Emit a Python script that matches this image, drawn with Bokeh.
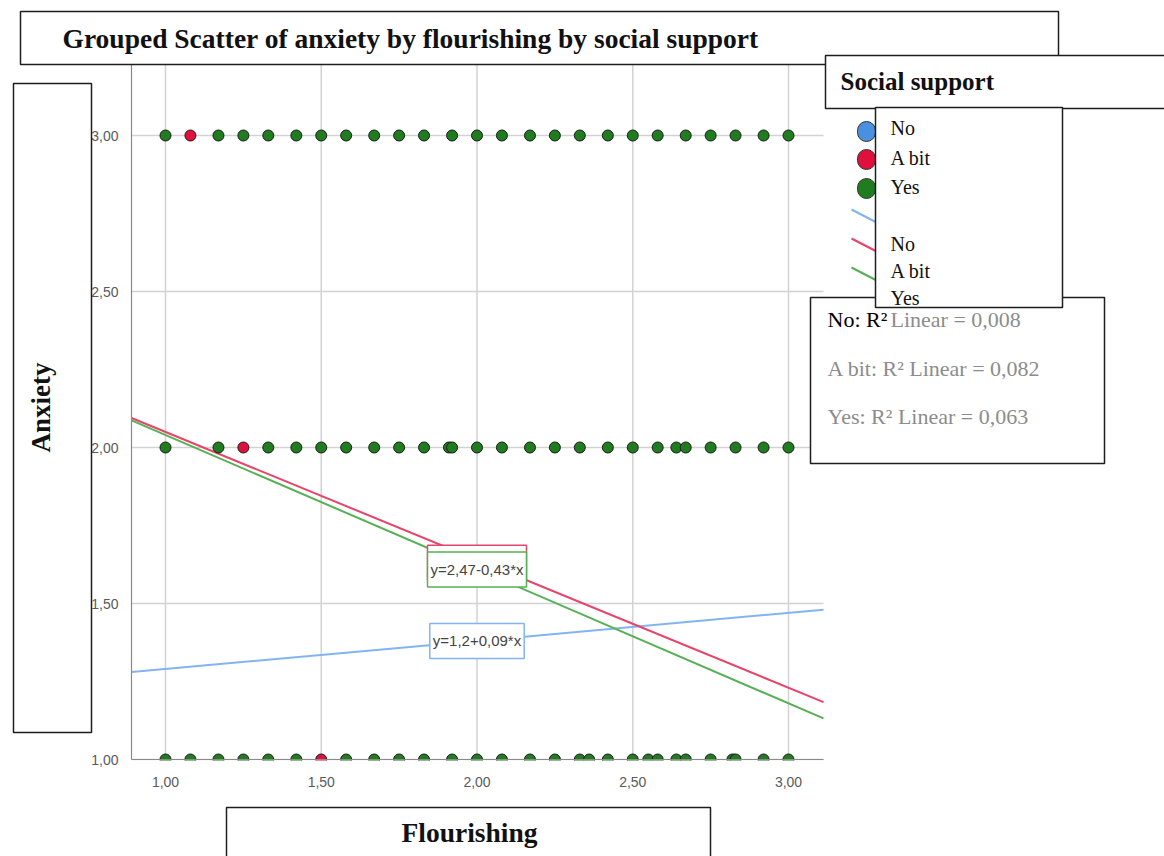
import numpy as np
from bokeh.plotting import figure
from bokeh.models import (Range1d, FixedTicker, CustomJSTickFormatter, Label,
                          BoxAnnotation, Arrow, LinearAxis)
from bokeh.embed import file_html
from bokeh.resources import INLINE

# ---------------- data ----------------
group_names = ["No", "A bit", "Yes"]
group_fill = ["#4a8fe0", "#e0103c", "#1f7d1f"]
fit_colors = ["#82b4f2", "#e8436a", "#55b055"]

# "Yes" group (green points)
yes_flourishing = [
    1.00, 1.17, 1.25, 1.33, 1.42, 1.50, 1.58, 1.67, 1.75, 1.83, 1.92, 2.00,
    2.08, 2.17, 2.25, 2.33, 2.42, 2.50, 2.58, 2.67, 2.75, 2.83, 2.92, 3.00,
    1.00, 1.17, 1.33, 1.42, 1.50, 1.58, 1.67, 1.75, 1.83, 1.91, 1.92, 2.00,
    2.08, 2.17, 2.25, 2.33, 2.42, 2.50, 2.58, 2.64, 2.67, 2.75, 2.83, 2.92, 3.00,
    1.00, 1.08, 1.17, 1.25, 1.33, 1.42, 1.58, 1.67, 1.75, 1.83, 1.92, 2.00,
    2.08, 2.17, 2.25, 2.33, 2.36, 2.42, 2.50, 2.55, 2.58, 2.64, 2.67, 2.75,
    2.82, 2.83, 2.92, 3.00,
]
yes_anxiety = [3.0] * 24 + [2.0] * 25 + [1.0] * 29

# "A bit" group (red points)
abit_flourishing = [1.08, 1.25, 1.50]
abit_anxiety = [3.0, 2.0, 1.0]

# "No" group: no points visible
no_flourishing = []
no_anxiety = []

# linear fits per group
fit_intercept = [1.20, 2.46, 2.47]
fit_slope = [0.09, -0.41, -0.43]
fit_equation = ["y=1,2+0,09*x", "y=2,46-0,41*x", "y=2,47-0,43*x"]
fit_label_x = 2.0
fit_label_y = [1.38, 1.631, 1.609]
r2_text = ["0,008", "0,082", "0,063"]

x_ticks = [1.0, 1.5, 2.0, 2.5, 3.0]
y_ticks = [1.0, 1.5, 2.0, 2.5, 3.0]

# data region of the plot (axis extents)
X_MIN, X_MAX = 0.891, 3.1125
Y_MIN, Y_MAX = 1.0, 3.2276

# ---------------- layout ----------------
W, H = 1164, 856
PX_PER_X, X1_PX = 311.5, 165.0   # page x of flourishing = 1
PX_PER_Y, Y1_PX = 312.0, 759.0   # page y of anxiety = 1


def SX(px):
    return px


def SY(py):
    return H - py


p = figure(width=W, height=H, min_border=0, output_backend="svg",
           toolbar_location=None, x_axis_type=None, y_axis_type=None,
           x_range=Range1d(1 - X1_PX / PX_PER_X, 1 + (W - X1_PX) / PX_PER_X),
           y_range=Range1d(1 - (H - Y1_PX) / PX_PER_Y, 1 + Y1_PX / PX_PER_Y))
p.outline_line_color = None
p.background_fill_color = "white"
p.border_fill_color = "white"
p.xgrid.visible = False
p.ygrid.visible = False

fmt = CustomJSTickFormatter(code="return tick.toFixed(2).replace('.', ',');")
xaxis = LinearAxis(fixed_location=Y_MIN, bounds=(X_MIN, X_MAX),
                   ticker=FixedTicker(ticks=x_ticks), formatter=fmt)
yaxis = LinearAxis(fixed_location=X_MIN, bounds=(Y_MIN, Y_MAX),
                   ticker=FixedTicker(ticks=y_ticks), formatter=fmt)
for ax in (xaxis, yaxis):
    ax.axis_line_color = "#8a8a8a"
    ax.axis_line_width = 1.2
    ax.major_tick_line_color = None
    ax.minor_tick_line_color = None
    ax.major_label_text_font = "Liberation Sans"
    ax.major_label_text_font_size = "14px"
    ax.major_label_text_color = "#5a5a5a"
xaxis.major_label_standoff = 11
yaxis.major_label_standoff = 7
p.add_layout(xaxis, "below")
p.add_layout(yaxis, "left")

# grid lines limited to the data region
p.segment(x0=x_ticks, y0=[Y_MIN] * len(x_ticks), x1=x_ticks, y1=[Y_MAX] * len(x_ticks),
          line_color="#d2d2d2", line_width=1.5)
p.segment(x0=[X_MIN] * len(y_ticks), y0=y_ticks, x1=[X_MAX] * len(y_ticks), y1=y_ticks,
          line_color="#d2d2d2", line_width=1.5)

# fit lines across the data region
xs_fit = np.array([X_MIN, X_MAX])
for a, b, c in zip(fit_intercept, fit_slope, fit_colors):
    p.line(xs_fit, a + b * xs_fit, line_color=c, line_width=2)

# points
p.scatter(no_flourishing, no_anxiety, size=11, fill_color=group_fill[0],
          line_color="#1a1a1a", line_width=1)
p.scatter(yes_flourishing, yes_anxiety, size=11, fill_color=group_fill[2],
          line_color="#1a1a1a", line_width=1)
p.scatter(abit_flourishing, abit_anxiety, size=11, fill_color=group_fill[1],
          line_color="#1a1a1a", line_width=1)


def box(l, r, t, b, lw=1.5, color="#1e1e1e", fill="white"):
    p.add_layout(BoxAnnotation(left=SX(l), right=SX(r), top=SY(t), bottom=SY(b),
                               left_units="screen", right_units="screen",
                               top_units="screen", bottom_units="screen",
                               fill_color=fill, fill_alpha=1.0,
                               line_color=color, line_alpha=1.0, line_width=lw,
                               level="annotation"))


def text(px, py, s, size, bold=False, color="#111111", align="left", angle=0.0):
    p.add_layout(Label(x=SX(px), y=SY(py), x_units="screen", y_units="screen",
                       text=s, text_font="Liberation Serif", text_font_size=size,
                       text_font_style="bold" if bold else "normal",
                       text_color=color, text_align=align, text_baseline="middle",
                       angle=angle))


# clip the lower half of markers sitting on the x axis
box(131, 823, 760.5, 767, lw=1, color="white")

# equation labels (red first, then green on top, then blue)
for i in (1, 2, 0):
    p.add_layout(Label(x=fit_label_x, y=fit_label_y[i], text=fit_equation[i],
                       text_align="center", text_baseline="middle",
                       text_font="Liberation Sans", text_font_size="15px",
                       text_color="#444444", background_fill_color="white",
                       border_line_color=fit_colors[i], border_line_width=1.5,
                       padding=dict(left=3, right=3, top=9, bottom=9)))

# title
box(20, 1058, 11, 64)
text(62, 38, "Grouped Scatter of anxiety by flourishing by social support", "27.5px", bold=True)
# y axis label
box(13, 91, 83, 732)
text(40, 407, "Anxiety", "27px", bold=True, align="center", angle=np.pi / 2)
# x axis label
box(226, 710, 807, 900)
text(469, 832, "Flourishing", "27.5px", bold=True, align="center")
# legend title
box(825, 1200, 55, 108)
text(840, 81, "Social support", "25px", bold=True)
# R2 box
box(810, 1104, 297, 463)
text(827, 319, "No: R²", "22px", color="#000000")
text(890, 319, "Linear = " + r2_text[0], "22px", color="#8c8c8c")
text(827, 368, "A bit: R² Linear = " + r2_text[1], "22px", color="#8c8c8c")
text(827, 416, "Yes: R² Linear = " + r2_text[2], "22px", color="#8c8c8c")

# legend markers
for cy, col in zip([131, 159, 188], group_fill):
    p.add_layout(BoxAnnotation(left=SX(857), right=SX(875), top=SY(cy - 10), bottom=SY(cy + 10),
                               left_units="screen", right_units="screen",
                               top_units="screen", bottom_units="screen",
                               fill_color=col, fill_alpha=1.0, line_color="#333333",
                               line_alpha=1.0, line_width=1, border_radius=9,
                               level="annotation"))
for y0, col in zip([209, 238, 267], fit_colors):
    p.add_layout(Arrow(x_start=SX(851), y_start=SY(y0), x_end=SX(882), y_end=SY(y0 + 16),
                       start_units="screen", end_units="screen", end=None,
                       line_color=col, line_width=2))

# legend item box and texts
box(875, 1062, 107, 307)
for ly, name in zip([127, 157, 186], group_names):
    text(890, ly, name, "20px")
for ly, name in zip([243, 270, 297], group_names):
    text(890, ly, name, "20px")

open("out.html", "w").write(file_html(p, INLINE))
